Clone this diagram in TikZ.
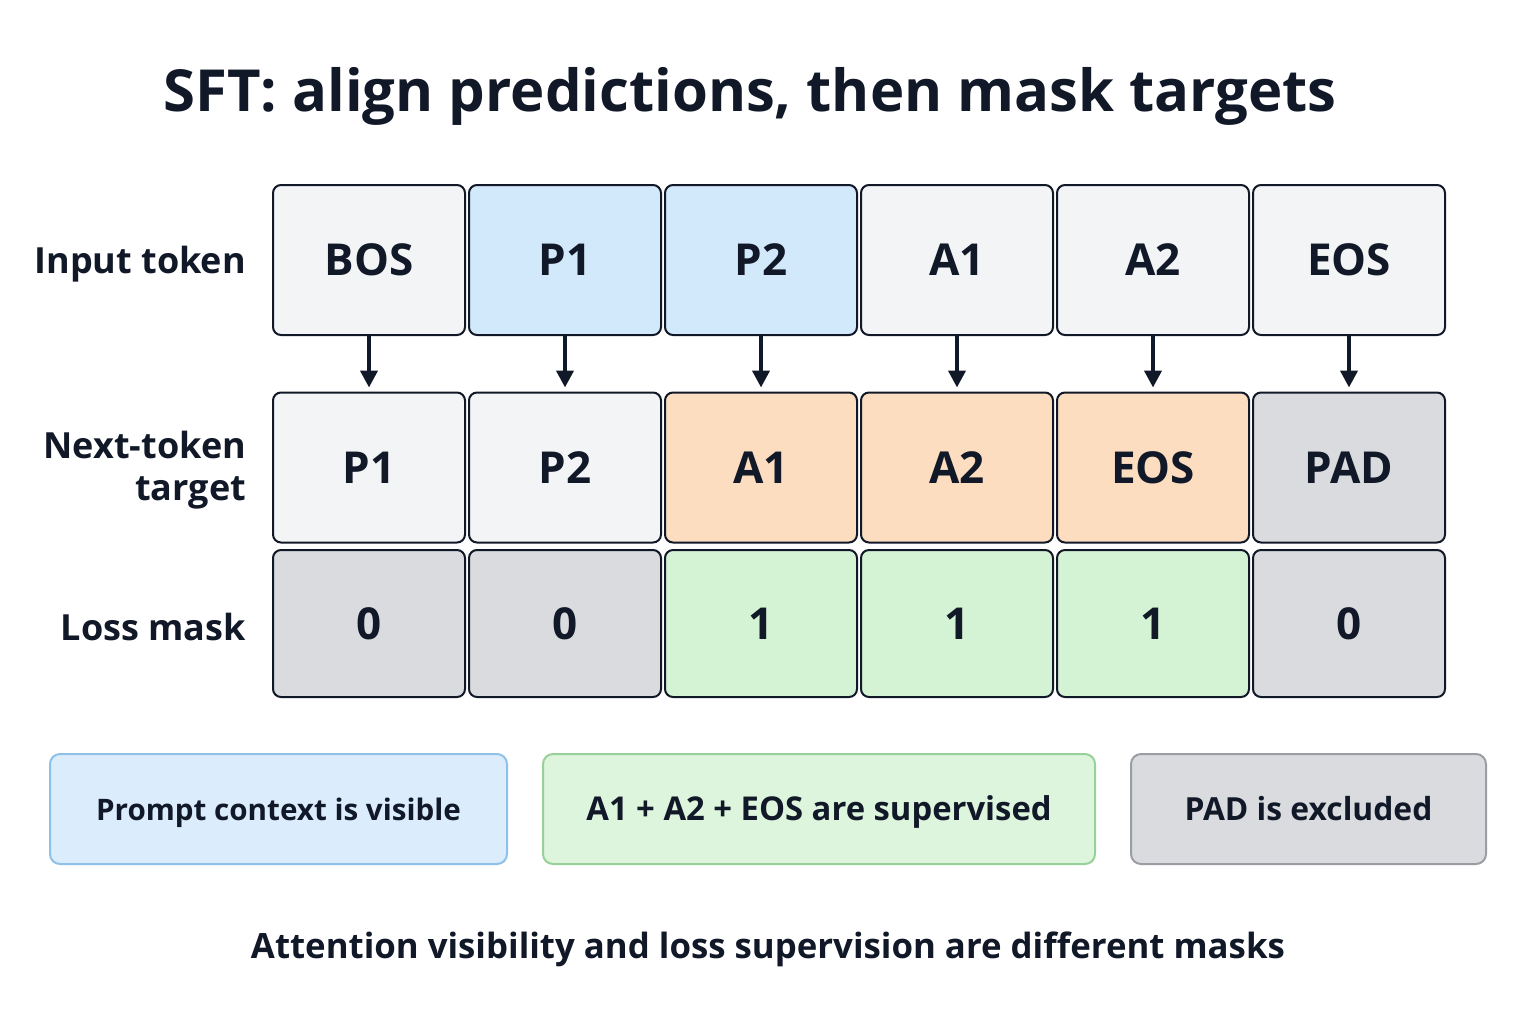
\documentclass[tikz,border=0pt]{standalone}
\usepackage{fontspec}
\setmainfont{Open Sans}
\usetikzlibrary{arrows.meta}

\definecolor{ink}{HTML}{111827}
\definecolor{plain}{HTML}{F3F4F6}
\definecolor{prompt}{HTML}{D2E8FB}
\definecolor{answer}{HTML}{FCDDC0}
\definecolor{kept}{HTML}{D4F2D4}
\definecolor{pad}{HTML}{D9DBDF}
\definecolor{promptline}{HTML}{8EC0E8}
\definecolor{keptline}{HTML}{98D198}
\definecolor{padline}{HTML}{9A9EA4}

\begin{document}
\begin{tikzpicture}[x=0.5pt,y=-0.5pt,
  cell/.style={draw=ink, line width=1pt, rounded corners=4pt, minimum width=96pt,
    minimum height=75pt, text=ink, font=\bfseries\fontsize{22}{26}\selectfont},
  rowlabel/.style={anchor=east, align=right, text=ink, font=\bfseries\fontsize{18}{21}\selectfont},
  legend/.style={line width=1pt, rounded corners=5pt, minimum height=55pt, text=ink,
    text height=11pt, text depth=0pt, font=\bfseries\fontsize{16.4}{20}\selectfont}]

  \useasboundingbox [fill=white] (0,0) rectangle (1536,1024);

  \node (title) at (750,96) [text=ink, font=\bfseries\fontsize{29}{34}\selectfont]
    {SFT: align predictions, then mask targets};

  \node (lin) at (253,264) [rowlabel] {Input token};
  \node (ltgt) at (253,470) [rowlabel] {Next-token\\target};
  \node (lmask) at (253,627) [rowlabel] {Loss mask};

  \foreach \t/\c [count=\i from 0] in {BOS/plain,P1/prompt,P2/prompt,A1/plain,A2/plain,EOS/plain}
  {
    \node (in\i) at (369+196*\i,260) [cell,fill=\c] {\t};
  }
  \foreach \t/\c [count=\i from 0] in {P1/plain,P2/plain,A1/answer,A2/answer,EOS/answer,PAD/pad}
  {
    \node (tgt\i) at (369+196*\i,467.5) [cell,fill=\c] {\t};
    \draw [line width=2pt, draw=ink, -{Triangle[width=8.5pt,length=8.5pt]}]
      (in\i.south) -- ([yshift=2pt]tgt\i.north);
  }
  \foreach \t/\c [count=\i from 0] in {0/pad,0/pad,1/kept,1/kept,1/kept,0/pad}
  {
    \node (mask\i) at (369+196*\i,623.5) [cell,fill=\c,minimum height=73.5pt] {\t};
  }

  \node (vis) at (278.5,809) [legend,draw=promptline,fill=prompt!80!white,minimum width=228.5pt,
    font=\bfseries\fontsize{14.8}{18}\selectfont]
    {Prompt context is visible};
  \node (sup) at (819,809) [legend,draw=keptline,fill=kept!80!white,minimum width=276pt]
    {A1 + A2 + EOS are supervised};
  \node (exc) at (1308.5,809) [legend,draw=padline,fill=pad,minimum width=177.5pt,
    font=\bfseries\fontsize{15.9}{19}\selectfont]
    {PAD is excluded};

  \node (note) at (768,949) [text=ink, font=\bfseries\fontsize{17.4}{21}\selectfont]
    {Attention visibility and loss supervision are different masks};

\end{tikzpicture}
\end{document}
